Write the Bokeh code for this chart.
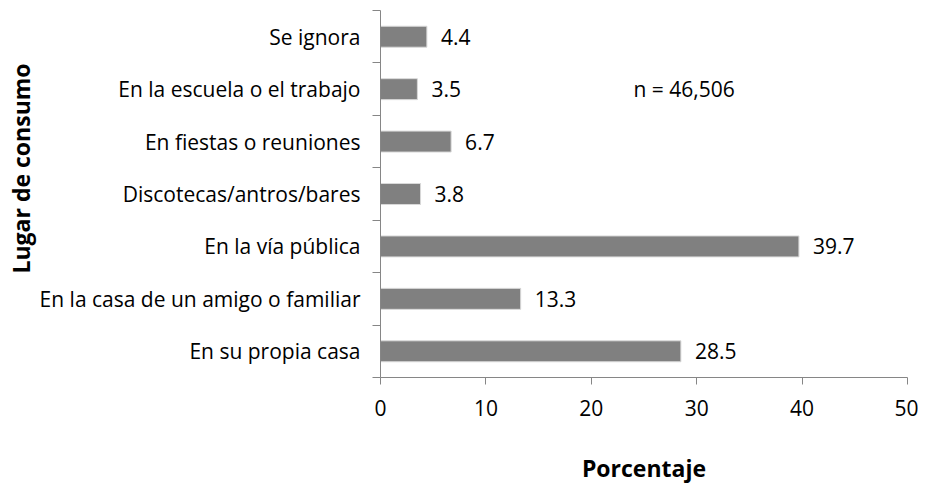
from bokeh.plotting import figure
from bokeh.models import FixedTicker, Range1d, Label, Title, ColumnDataSource
from bokeh.core.properties import value
from bokeh.embed import file_html
from bokeh.resources import INLINE

categories = ["En su propia casa", "En la casa de un amigo o familiar", "En la vía pública",
              "Discotecas/antros/bares", "En fiestas o reuniones", "En la escuela o el trabajo",
              "Se ignora"]
values = [28.5, 13.3, 39.7, 3.8, 6.7, 3.5, 4.4]
x_ticks = [0, 10, 20, 30, 40, 50]
n_text = "n = 46,506"
x_title = "Porcentaje"
y_title = "Lugar de consumo"

FONT = "Open Sans"
FS = "21px"
FS_T = "23px"

ypos = [i + 0.5 for i in range(len(categories))]
src = ColumnDataSource(dict(y=ypos, v=values, lab=[f"{v:.1f}" for v in values]))

p = figure(width=918, height=486, output_backend="svg", toolbar_location=None,
           x_range=Range1d(0, 50), y_range=Range1d(0, len(categories)),
           min_border_left=380, min_border_right=11, min_border_top=10, min_border_bottom=108)
p.outline_line_color = None
p.xgrid.visible = False
p.ygrid.visible = False

p.hbar(y="y", left=0, right="v", height=0.4, source=src,
       fill_color="#808080", line_color="#d9d9d9", line_width=1)
p.text(x="v", y="y", text="lab", source=src, x_offset=14, text_baseline="middle",
       text_align="left", text_font=value(FONT), text_font_size=FS, text_color="#000000")

p.add_layout(Label(x=24, y=5.5, text=n_text, text_baseline="middle", text_align="left",
                   text_font=FONT, text_font_size=FS, text_color="#000000"))

ax = p.xaxis[0]
ax.ticker = FixedTicker(ticks=x_ticks)
ax.major_tick_out = 7
ax.major_tick_in = 0
ax.minor_tick_out = 0
ax.minor_tick_in = 0
ax.axis_line_color = "#868686"
ax.major_tick_line_color = "#868686"
ax.major_label_text_font = FONT
ax.major_label_text_font_size = FS
ax.major_label_text_color = "#000000"
ax.major_label_standoff = 15
ax.axis_label = x_title
ax.axis_label_text_font = FONT
ax.axis_label_text_font_style = "bold"
ax.axis_label_text_font_size = FS_T
ax.axis_label_text_color = "#000000"
ax.axis_label_standoff = 33

ay = p.yaxis[0]
ay.ticker = FixedTicker(ticks=ypos, minor_ticks=list(range(len(categories) + 1)))
ay.major_label_overrides = {yy: c for yy, c in zip(ypos, categories)}
ay.major_tick_out = 0
ay.major_tick_in = 0
ay.minor_tick_out = 8
ay.minor_tick_in = 0
ay.axis_line_color = "#868686"
ay.minor_tick_line_color = "#868686"
ay.major_label_text_font = FONT
ay.major_label_text_font_size = FS
ay.major_label_text_color = "#000000"
ay.major_label_standoff = 12

t = Title(text=y_title, align="left", offset=104, text_font=FONT, text_font_size=FS_T,
          text_font_style="bold", text_color="#000000", standoff=0)
p.add_layout(t, "left")

open("out.html", "w").write(file_html(p, INLINE))
